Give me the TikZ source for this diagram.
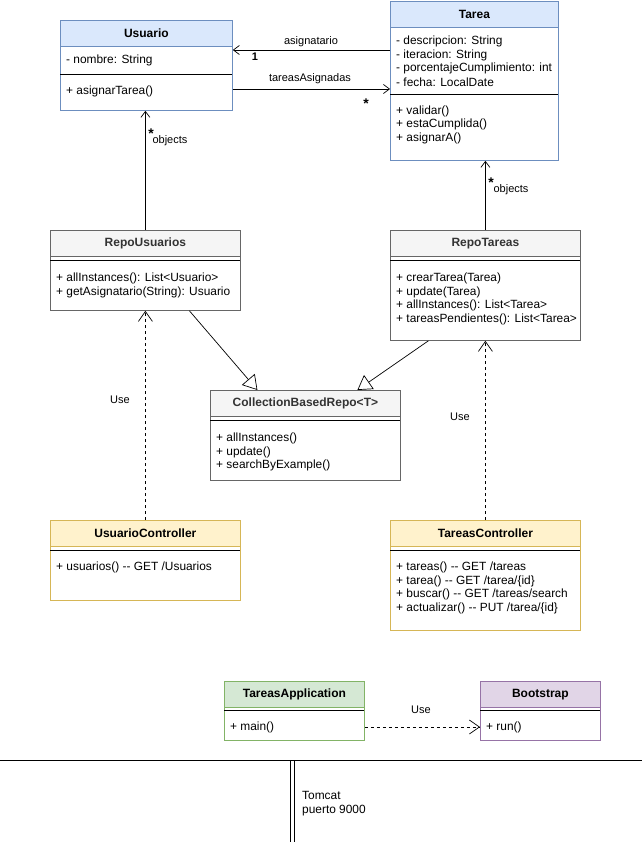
\documentclass[tikz,border=0pt]{standalone}
\usepackage{fontspec}
\setmainfont{Liberation Sans}
\usetikzlibrary{arrows.meta,positioning,calc}
\definecolor{UmlAzulFondo}{HTML}{DAE8FC}
\definecolor{UmlAzulBorde}{HTML}{6C8EBF}
\colorlet{UmlAzulTexto}{black}
\definecolor{UmlGrisFondo}{HTML}{F5F5F5}
\definecolor{UmlGrisBorde}{HTML}{666666}
\definecolor{UmlGrisTexto}{HTML}{333333}
\definecolor{UmlAmarilloFondo}{HTML}{FFF2CC}
\definecolor{UmlAmarilloBorde}{HTML}{D6B656}
\colorlet{UmlAmarilloTexto}{black}
\definecolor{UmlVerdeFondo}{HTML}{D5E8D4}
\definecolor{UmlVerdeBorde}{HTML}{82B366}
\colorlet{UmlVerdeTexto}{black}
\definecolor{UmlMoradoFondo}{HTML}{E1D5E7}
\definecolor{UmlMoradoBorde}{HTML}{9673A6}
\colorlet{UmlMoradoTexto}{black}

% #1 nombre, #2 color, #3 x, #4 y, #5 ancho, #6 alto, #7 titulo
\newcommand{\claseUml}[7]{%
  \node[cuerpo, draw=#2Borde, minimum width=#5, minimum height=#6] (#1) at (#3,#4) {};
  \node[cabeza, draw=#2Borde, fill=#2Fondo, text=#2Texto, minimum width=#5] (#1-t) at (#3,#4) {#7};
}

\begin{document}
\begin{tikzpicture}[x=1pt,y=-1pt,
    cuerpo/.style={anchor=north west, inner sep=0pt, fill=white, line width=0.8pt},
    cabeza/.style={anchor=north west, inner sep=0pt, minimum height=26, line width=0.8pt,
      font=\bfseries\fontsize{12}{14}\selectfont},
    miembro/.style={anchor=west, inner sep=0pt, font=\fontsize{11.9}{14}\selectfont},
    etiqueta/.style={inner sep=0pt, font=\fontsize{11}{13}\selectfont},
    estrella/.style={inner sep=0pt, font=\bfseries\fontsize{14}{14}\selectfont},
    separador/.style={line width=0.8pt},
    asoc/.style={line width=0.7pt, -{Straight Barb[length=6pt,width=9pt]}},
    depend/.style={line width=0.7pt, dashed, -{Straight Barb[length=10pt,width=14pt]}},
    hereda/.style={line width=0.7pt, -{Triangle[open,length=14pt,width=17pt]}}]
  \useasboundingbox (0,0) rectangle (642,842);

  % clases
  \claseUml{usuario}{UmlAzul}{60}{20}{172}{90}{Usuario}
  \claseUml{tarea}{UmlAzul}{390}{1}{168}{159}{Tarea}
  \claseUml{repoU}{UmlGris}{50}{230}{190}{80}{RepoUsuarios}
  \claseUml{repoT}{UmlGris}{390}{230}{190}{110}{RepoTareas}
  \claseUml{repo}{UmlGris}{210}{390}{190}{90}{CollectionBasedRepo<T>}
  \claseUml{ctrlU}{UmlAmarillo}{50}{520}{190}{80}{UsuarioController}
  \claseUml{ctrlT}{UmlAmarillo}{390}{520}{190}{110}{TareasController}
  \claseUml{app}{UmlVerde}{224}{681}{140}{59}{TareasApplication}
  \claseUml{boot}{UmlMorado}{480}{681}{120}{59}{Bootstrap}

  % separadores
  \draw[separador] (60,74) -- ++(172,0);
  \draw[separador] (390,94) -- ++(168,0);
  \foreach \x/\y/\w in {50/260/190,390/260/190,210/420/190,50/550/190,390/550/190,224/710/140,480/710/120}
    \draw[separador] (\x,\y) -- ++(\w,0);

  % miembros
  \node[miembro] (usuario-a1) at (66,60) {- nombre: String};
  \node[miembro] (usuario-m1) at (66,91.5) {+ asignarTarea()};
  \foreach \m [count=\i] in {- descripcion: String,- iteracion: String,- porcentajeCumplimiento: int,- fecha: LocalDate}
    \node[miembro] (tarea-a\i) at (396,{41.5+13.5*(\i-1)}) {\m};
  \foreach \m [count=\i] in {+ validar(),+ estaCumplida(),+ asignarA()}
    \node[miembro] (tarea-m\i) at (396,{111.3+13.5*(\i-1)}) {\m};
  \foreach \m [count=\i] in {+ allInstances(): List<Usuario>,+ getAsignatario(String): Usuario}
    \node[miembro] (repoU-m\i) at (56,{278.5+13.5*(\i-1)}) {\m};
  \foreach \m [count=\i] in {+ crearTarea(Tarea),+ update(Tarea),+ allInstances(): List<Tarea>,+ tareasPendientes(): List<Tarea>}
    \node[miembro] (repoT-m\i) at (396,{278.5+13.5*(\i-1)}) {\m};
  \foreach \m [count=\i] in {+ allInstances(),+ update(),+ searchByExample()}
    \node[miembro] (repo-m\i) at (216,{438.5+13.5*(\i-1)}) {\m};
  \node[miembro] (ctrlU-m1) at (56,567.5) {+ usuarios() -{}- GET /Usuarios};
  \foreach \m [count=\i] in {+ tareas() -{}- GET /tareas,+ tarea() -{}- GET /tarea/\{id\},+ buscar() -{}- GET /tareas/search,+ actualizar() -{}- PUT /tarea/\{id\}}
    \node[miembro] (ctrlT-m\i) at (396,{567.5+13.5*(\i-1)}) {\m};
  \node[miembro] (app-m1) at (230,727) {+ main()};
  \node[miembro] (boot-m1) at (486,727) {+ run()};

  % asociaciones
  \coordinate (asig) at ([yshift=-49pt]tarea.north west);
  \coordinate (asigs) at ([yshift=-69pt]usuario.north east);
  \draw[asoc] (asig) -- (asig -| usuario.east);
  \draw[asoc] (asigs) -- (asigs -| tarea.west);
  \draw[asoc] (repoU.north) -- (repoU.north |- usuario.south);
  \draw[asoc] (repoT.north) -- (repoT.north |- tarea.south);
  \node[etiqueta] (lbl-asig) at (311,42) {asignatario};
  \node[etiqueta] (lbl-uno) at (255,57) {\bfseries 1};
  \node[etiqueta] (lbl-tareas) at (310,79) {tareasAsignadas};
  \node[estrella] (lbl-muchos) at (366,104) {*};
  \node[estrella] (lbl-usuarios) at (151,134) {*};
  \node[etiqueta] (lbl-objU) at (170,141) {objects};
  \node[estrella] (lbl-tareasObj) at (491,183) {*};
  \node[etiqueta] (lbl-objT) at (511,190) {objects};

  % herencia
  \draw[hereda] ([xshift=44pt]repoU.south) -- ([xshift=-48pt]repo.north);
  \draw[hereda] ([xshift=-57pt]repoT.south) -- ([xshift=52pt]repo.north);

  % dependencias
  \draw[depend] (ctrlU.north) -- (ctrlU.north |- repoU.south);
  \draw[depend] (ctrlT.north) -- (ctrlT.north |- repoT.south);
  \draw[depend] (app.east |- app-m1) -- (boot.west |- app-m1);
  \node[etiqueta] (lbl-useU) at (120,400) {Use};
  \node[etiqueta] (lbl-useT) at (460,417) {Use};
  \node[etiqueta] (lbl-useApp) at (421,710) {Use};

  % servidor
  \coordinate (sueloIzq) at (0,760);
  \coordinate (sueloDer) at (642,760);
  \coordinate (tomcatArriba) at (292.5,760);
  \coordinate (tomcatAbajo) at (292.5,842);
  \draw[line width=0.8pt, double distance=2.6pt] (tomcatArriba) -- (tomcatAbajo);
  \draw[line width=0.8pt] (sueloIzq) -- (sueloDer);
  \node[miembro, anchor=north west, align=left] (tomcat) at (302,791) {Tomcat\\puerto 9000};
\end{tikzpicture}
\end{document}
